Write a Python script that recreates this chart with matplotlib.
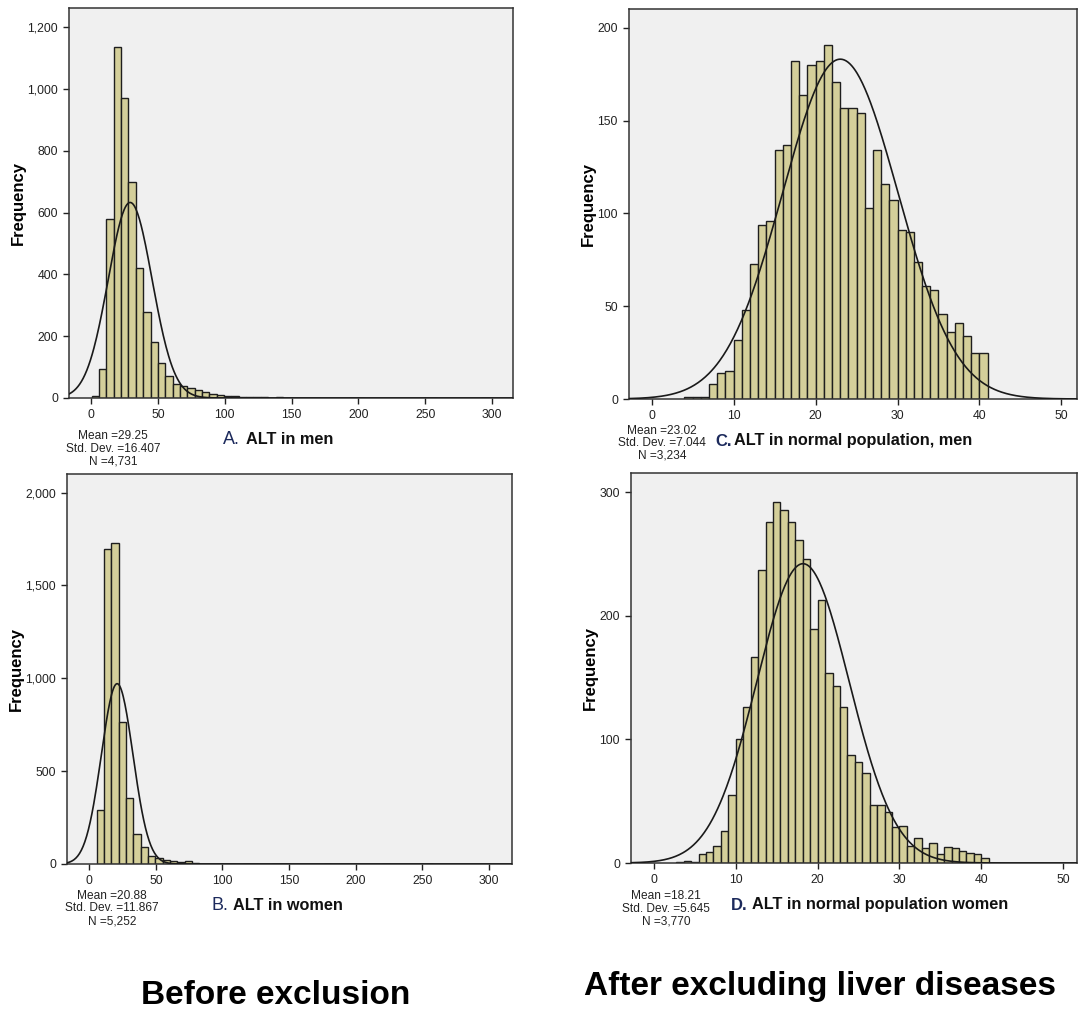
import numpy as np
import matplotlib.pyplot as plt
from matplotlib.ticker import FuncFormatter

plt.rcParams['font.family'] = ['Liberation Sans', 'DejaVu Sans']

# A. ALT in men, before exclusion (bins 5.5 wide from 0.5)
men_all_start, men_all_width = 0.5, 5.5
men_all_counts = [5, 95, 580, 1136, 971, 698, 422, 278, 181, 113, 72, 46, 38, 32, 27, 18, 13, 11,
                  7, 5, 4, 3, 2, 2, 1, 2, 1, 1, 1, 1, 1, 0, 0, 0, 0, 1, 1, 0, 0, 0, 0, 0, 0, 0,
                  0, 1, 1, 0, 0, 0, 0, 0, 0, 1]
men_all_stats = (29.25, 16.407, 4731)

# B. ALT in women, before exclusion (bins 5.5 wide from 0)
women_all_start, women_all_width = 0.0, 5.5
women_all_counts = [0, 291, 1697, 1731, 763, 357, 160, 93, 45, 30, 22, 14, 11, 14, 3, 2, 2, 1,
                    1, 1, 0, 1, 1, 0, 0, 1, 1, 0, 0, 0, 0, 0, 1, 0, 0, 0, 0, 0, 0, 0, 1, 0,
                    0, 0, 0, 0, 1]
women_all_stats = (20.88, 11.867, 5252)

# C. ALT in normal population, men (bins 1 wide from 4)
men_norm_start, men_norm_width = 4.0, 1.0
men_norm_counts = [1, 1, 1, 8, 14, 15, 32, 48, 73, 94, 96, 134, 137, 182, 164, 180, 182, 191,
                   171, 157, 157, 154, 103, 134, 116, 107, 91, 90, 74, 61, 59, 46, 36, 41, 34,
                   25, 25]
men_norm_stats = (23.02, 7.044, 3234)

# D. ALT in normal population, women (bins 10/11 wide)
women_norm_width = 10 / 11
women_norm_start = 3 * women_norm_width
women_norm_counts = [1, 2, 1, 7, 9, 14, 26, 55, 100, 126, 167, 237, 276, 292, 286, 276, 261,
                     246, 189, 213, 154, 143, 126, 87, 82, 73, 47, 47, 41, 29, 30, 14, 20, 12,
                     16, 7, 13, 12, 10, 8, 7, 4]
women_norm_stats = (18.21, 5.645, 3770)

BAR = '#d4cf9a'
BG = '#f0f0f0'

fig = plt.figure(figsize=(10.78, 10.10), dpi=100)
W, H = 1078, 1010


def axes_px(left, top, right, bottom):
    return fig.add_axes([left / W, 1 - bottom / H, (right - left) / W, (bottom - top) / H])


def panel(ax, start, width, counts, stats, xlim, ylim, xticks, yticks):
    counts = np.array(counts, dtype=float)
    lefts = start + width * np.arange(len(counts))
    keep = counts > 0
    ax.bar(lefts[keep], counts[keep], width=width, align='edge', color=BAR,
           edgecolor='#1e1e1e', linewidth=1.0, zorder=2)
    mean, sd, n = stats
    xs = np.linspace(xlim[0], xlim[1], 500)
    ys = n * width * np.exp(-0.5 * ((xs - mean) / sd) ** 2) / (sd * np.sqrt(2 * np.pi))
    ax.plot(xs, ys, color='#1a1a1a', linewidth=1.2, zorder=3)
    ax.set_facecolor(BG)
    ax.set_xlim(*xlim)
    ax.set_ylim(*ylim)
    ax.set_xticks(xticks)
    ax.set_yticks(yticks)
    ax.yaxis.set_major_formatter(FuncFormatter(lambda v, p: f'{int(v):,}'))
    ax.tick_params(direction='out', length=4, width=1, labelsize=8.8, colors='#222222', pad=4)
    for s in ax.spines.values():
        s.set_color('#333333')
        s.set_linewidth(1.1)
    ax.set_ylabel('Frequency', fontsize=12, fontweight='bold', labelpad=1)


axA = axes_px(69, 8, 513, 398)
panel(axA, men_all_start, men_all_width, men_all_counts, men_all_stats,
      (-16.5, 315.6), (0, 1262), [0, 50, 100, 150, 200, 250, 300], [0, 200, 400, 600, 800, 1000, 1200])

axB = axes_px(67, 474, 512, 864)
panel(axB, women_all_start, women_all_width, women_all_counts, women_all_stats,
      (-16.8, 317.5), (0, 2100), [0, 50, 100, 150, 200, 250, 300], [0, 500, 1000, 1500, 2000])

axC = axes_px(629, 9, 1077, 399)
panel(axC, men_norm_start, men_norm_width, men_norm_counts, men_norm_stats,
      (-2.76, 51.9), (0, 210.2), [0, 10, 20, 30, 40, 50], [0, 50, 100, 150, 200])

axD = axes_px(631, 473, 1077, 863)
panel(axD, women_norm_start, women_norm_width, women_norm_counts, women_norm_stats,
      (-2.81, 51.7), (0, 315.6), [0, 10, 20, 30, 40, 50], [0, 100, 200, 300])


def stats_text(cx, ys, stats):
    mean, sd, n = stats
    lines = [f'Mean ={mean:.2f}', f'Std. Dev. ={sd:.3f}', f'N ={n:,}']
    for y, t in zip(ys, lines):
        fig.text(cx / W, 1 - y / H, t, ha='center', va='center', fontsize=8.6, color='#222222')


stats_text(113, (436, 449, 461), men_all_stats)
stats_text(112, (896, 908, 921), women_all_stats)
stats_text(662, (431, 443, 456), men_norm_stats)
stats_text(666, (896, 909, 922), women_norm_stats)


def title(x_letter, x_text, y, letter, text, bold_letter):
    fig.text(x_letter / W, 1 - y / H, letter, ha='left', va='center', fontsize=13 if not bold_letter else 12,
             fontweight='bold' if bold_letter else 'normal', color='#1c2a5c')
    fig.text(x_text / W, 1 - y / H, text, ha='left', va='center', fontsize=11.7,
             fontweight='bold', color='#111111')


title(223, 246, 440, 'A.', 'ALT in men', False)
title(212, 233, 906, 'B.', 'ALT in women', False)
title(715, 734, 441, 'C.', 'ALT in normal population, men', True)
title(731, 752, 905, 'D.', 'ALT in normal population women', True)

fig.text(276 / W, 1 - 995 / H, 'Before exclusion', ha='center', va='center',
         fontsize=24, fontweight='bold', color='black')
fig.text(820 / W, 1 - 987 / H, 'After excluding liver diseases', ha='center', va='center',
         fontsize=24, fontweight='bold', color='black')

fig.savefig('out.png', dpi=100, facecolor='white')
